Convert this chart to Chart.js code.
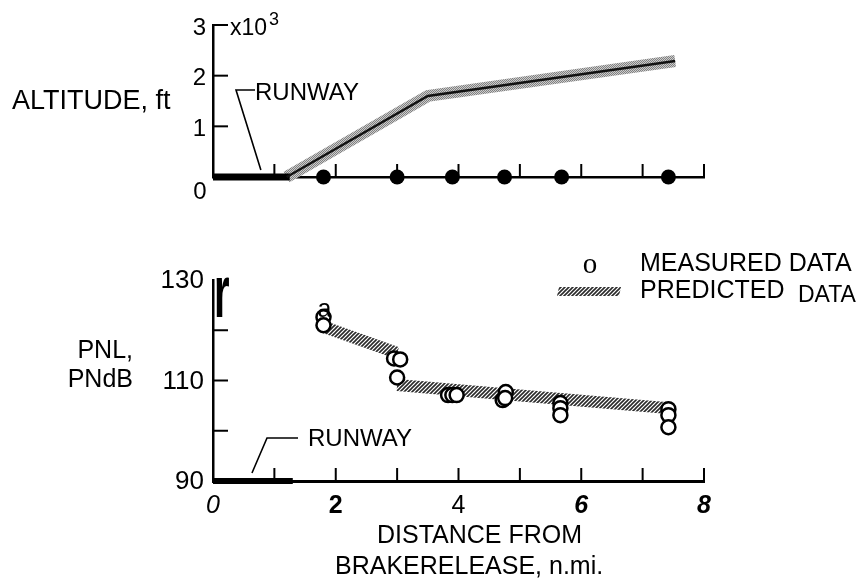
<!DOCTYPE html>
<html>
<head>
<meta charset="utf-8">
<title>Altitude and PNL vs distance from brake release</title>
<script src="https://cdn.jsdelivr.net/npm/chart.js@4.4.1/dist/chart.umd.min.js"></script>
<style>
  html, body { margin: 0; padding: 0; background: #fff; }
  #wrap { position: relative; width: 859px; height: 587px; }
  canvas { position: absolute; left: 0; top: 0; }
</style>
</head>
<body>
<div id="wrap">
  <canvas id="altChart" width="859" height="587"></canvas>
  <canvas id="pnlChart" width="859" height="587"></canvas>
</div>
<script>
// Data ==================================================

// microphone stations along the ground track, n.mi.
const stationDist = [1.8, 3.0, 3.9, 4.75, 5.68, 7.42];

// flight path (altitude, ft)
const pathDist = [1.2, 3.5, 7.53];
const pathAlt = [0, 1600, 2290];

// runway, both panels
const runwayDistAlt = [0, 1.25];
const runwayDistPnl = [0, 1.3];

// measured PNL, several runs per station
const measuredDist = [1.8, 1.8, 2.95, 3.05, 3.0, 3.83, 3.9, 3.97, 4.77, 4.72, 4.76, 5.66, 5.66, 5.66, 7.42, 7.42, 7.42];
const measuredPnl = [122.6, 121.0, 114.4, 114.2, 110.6, 107.1, 107.1, 107.1, 107.7, 106.1, 106.5, 105.5, 104.5, 103.1, 104.3, 103.1, 100.7];

// predicted PNL band, two legs (drop at cutback)
const predDist1 = [1.82, 3.0];
const predPnl1 = [120.6, 115.5];
const predDist2 = [3.0, 7.42];
const predPnl2 = [109.1, 104.5];

// ticks
const distTicks = [0, 1, 2, 3, 4, 5, 6, 7, 8];
const distLabels = [0, 2, 4, 6, 8];
const altTicks = [0, 1000, 2000, 3000];
const pnlTicks = [90, 100, 110, 120, 130];
const pnlLabels = [90, 110, 130];

// Helpers ===============================================

const SANS = '"Liberation Sans", Arial, sans-serif';

function xy(xs, ys) {
  return xs.map((x, i) => ({ x: x, y: ys[i] }));
}

function hatchPattern() {
  const c = document.createElement('canvas');
  c.width = 4; c.height = 4;
  const g = c.getContext('2d');
  g.strokeStyle = '#2a2a2a';
  g.lineWidth = 1.6;
  g.beginPath();
  g.moveTo(-1, 5); g.lineTo(5, -1);
  g.moveTo(-1, 1); g.lineTo(1, -1);
  g.moveTo(3, 5); g.lineTo(5, 3);
  g.stroke();
  return g.createPattern(c, 'repeat');
}

function screenPattern() {
  const c = document.createElement('canvas');
  c.width = 2; c.height = 2;
  const g = c.getContext('2d');
  g.fillStyle = '#cccccc';
  g.fillRect(0, 0, 2, 2);
  g.fillStyle = '#808080';
  g.fillRect(0, 0, 1, 1);
  g.fillRect(1, 1, 1, 1);
  return g.createPattern(c, 'repeat');
}

function text(ctx, s, x, y, size, align, opts) {
  opts = opts || {};
  ctx.save();
  ctx.fillStyle = '#000';
  ctx.font = (opts.style || '') + ' ' + (opts.weight || '') + ' ' + size + 'px ' + (opts.family || SANS);
  ctx.textAlign = align || 'left';
  ctx.textBaseline = opts.baseline || 'middle';
  ctx.fillText(s, x, y);
  ctx.restore();
}

function line(ctx, pts, w) {
  ctx.save();
  ctx.strokeStyle = '#000';
  ctx.lineWidth = w || 1.6;
  ctx.beginPath();
  pts.forEach((p, i) => i ? ctx.lineTo(p[0], p[1]) : ctx.moveTo(p[0], p[1]));
  ctx.stroke();
  ctx.restore();
}

// ticks drawn inward from the axes
function innerTicks(chart, xVals, yVals, len) {
  const { ctx, scales: { x, y } } = chart;
  const bottom = y.getPixelForValue(y.min);
  const left = x.getPixelForValue(x.min);
  xVals.forEach(v => {
    const px = x.getPixelForValue(v);
    line(ctx, [[px, bottom], [px, bottom - len]], 2);
  });
  yVals.forEach(v => {
    const py = y.getPixelForValue(v);
    line(ctx, [[left, py], [left + len + 2, py]], 2);
  });
}

const hatch = hatchPattern();
const screen = screenPattern();

function fixedTicks(vals) {
  return function (scale) { scale.ticks = vals.map(v => ({ value: v })); };
}

// Top panel: altitude ===================================

const altDecor = {
  id: 'altDecor',
  afterDraw(chart) {
    const { ctx, scales: { x, y } } = chart;
    innerTicks(chart, distTicks.slice(1), altTicks.slice(1), 13);

    // runway call-out
    line(ctx, [[x.getPixelForValue(0.685), y.getPixelForValue(1717)],
               [x.getPixelForValue(0.375), y.getPixelForValue(1717)],
               [x.getPixelForValue(0.78), y.getPixelForValue(140)]], 1.6);
    text(ctx, 'RUNWAY', x.getPixelForValue(0.685), y.getPixelForValue(1660), 24, 'left');

    text(ctx, 'ALTITUDE, ft', 12, 102, 27, 'left');
    text(ctx, 'x10', 230, 35, 23, 'left', { baseline: 'alphabetic' });
    text(ctx, '3', 269, 25, 18, 'left', { baseline: 'alphabetic' });
    text(ctx, '0', 200, 192, 24, 'center');
  }
};

new Chart(document.getElementById('altChart'), {
  type: 'line',
  data: {
    datasets: [
      {
        label: 'Stations',
        data: stationDist.map(d => ({ x: d, y: 0 })),
        showLine: false,
        pointRadius: 7.5,
        pointBackgroundColor: '#000',
        pointBorderWidth: 0,
        clip: false,
        order: 0
      },
      {
        label: 'Flight path',
        data: xy(pathDist, pathAlt),
        borderColor: '#111',
        borderWidth: 2.5,
        pointRadius: 0,
        clip: false,
        order: 1
      },
      {
        label: 'Runway',
        data: runwayDistAlt.map(d => ({ x: d, y: 0 })),
        borderColor: '#000',
        borderWidth: 7,
        borderCapStyle: 'butt',
        pointRadius: 0,
        clip: false,
        order: 2
      },
      {
        label: 'Path band',
        data: xy(pathDist, pathAlt),
        borderColor: screen,
        borderWidth: 12,
        borderCapStyle: 'butt',
        pointRadius: 0,
        clip: false,
        order: 3
      }
    ]
  },
  options: {
    responsive: false,
    animation: false,
    devicePixelRatio: 1,
    events: [],
    layout: { padding: { left: 153, right: 859 - 704, top: 25, bottom: 587 - 177 } },
    plugins: { legend: { display: false }, tooltip: { enabled: false } },
    scales: {
      x: {
        type: 'linear', min: 0, max: 8,
        afterBuildTicks: fixedTicks(distTicks),
        afterFit: s => { s.height = 0; },
        grid: { display: false, drawTicks: false },
        border: { color: '#000', width: 2.5 },
        ticks: { display: false }
      },
      y: {
        type: 'linear', min: 0, max: 3000,
        afterBuildTicks: fixedTicks(altTicks),
        afterFit: s => { s.width = 60; },
        grid: { display: false, drawTicks: false },
        border: { color: '#000', width: 2.5 },
        ticks: {
          color: '#000',
          padding: 7,
          labelOffset: 3,
          font: { family: SANS, size: 24 },
          callback: v => v === 0 ? '' : String(v / 1000)
        }
      }
    }
  },
  plugins: [altDecor]
});

// Bottom panel: PNL =====================================

const pnlDecor = {
  id: 'pnlDecor',
  afterDraw(chart) {
    const { ctx, scales: { x, y } } = chart;
    innerTicks(chart, distTicks.slice(1), [100, 110, 120], 13);

    // top of the axis came out as an "r" in the scan
    ctx.save();
    ctx.translate(x.getPixelForValue(0) + 1, y.getPixelForValue(122.7));
    ctx.scale(1, 1.85);
    ctx.fillStyle = '#000';
    ctx.font = 'bold 40px ' + SANS;
    ctx.textBaseline = 'alphabetic';
    ctx.fillText('r', 0, 0);
    ctx.restore();

    text(ctx, 'a', x.getPixelForValue(1.815), y.getPixelForValue(124.0), 25, 'center');

    // runway call-out
    line(ctx, [[x.getPixelForValue(1.385), y.getPixelForValue(98.56)],
               [x.getPixelForValue(0.88), y.getPixelForValue(98.56)],
               [x.getPixelForValue(0.635), y.getPixelForValue(91.6)]], 1.6);
    text(ctx, 'RUNWAY', x.getPixelForValue(1.548), y.getPixelForValue(98.2), 24, 'left');

    // legend
    text(ctx, 'o', 590, 265, 29, 'center', { family: '"Liberation Serif", serif' });
    text(ctx, 'MEASURED DATA', 640, 264, 25, 'left');
    ctx.save();
    ctx.fillStyle = hatch;
    ctx.beginPath();
    ctx.moveTo(559, 287); ctx.lineTo(621, 287); ctx.lineTo(619, 296); ctx.lineTo(557, 296);
    ctx.closePath();
    ctx.fill();
    ctx.restore();
    text(ctx, 'PREDICTED', 640, 291, 25, 'left');
    text(ctx, 'DATA', 798, 296, 23, 'left');

    // y title
    text(ctx, 'PNL,', 133, 351, 25, 'right');
    text(ctx, 'PNdB', 133, 380, 25, 'right');

    // x title
    text(ctx, 'DISTANCE FROM', 377, 536, 25, 'left');
    text(ctx, 'BRAKERELEASE, n.mi.', 335, 567, 25, 'left');
  }
};

new Chart(document.getElementById('pnlChart'), {
  type: 'line',
  data: {
    datasets: [
      {
        label: 'MEASURED DATA',
        data: xy(measuredDist, measuredPnl),
        showLine: false,
        pointRadius: 7,
        pointBorderWidth: 2.5,
        pointBorderColor: '#000',
        pointBackgroundColor: '#fff',
        clip: false,
        order: 0
      },
      {
        label: 'Runway',
        data: runwayDistPnl.map(d => ({ x: d, y: 90 })),
        borderColor: '#000',
        borderWidth: 6,
        borderCapStyle: 'butt',
        pointRadius: 0,
        clip: false,
        order: 1
      },
      {
        label: 'PREDICTED DATA',
        data: xy(predDist1, predPnl1),
        borderColor: hatch,
        borderWidth: 12,
        borderCapStyle: 'butt',
        pointRadius: 0,
        clip: false,
        order: 2
      },
      {
        label: 'PREDICTED DATA (cutback)',
        data: xy(predDist2, predPnl2),
        borderColor: hatch,
        borderWidth: 12,
        borderCapStyle: 'butt',
        pointRadius: 0,
        clip: false,
        order: 3
      }
    ]
  },
  options: {
    responsive: false,
    animation: false,
    devicePixelRatio: 1,
    events: [],
    layout: { padding: { left: 153, right: 859 - 704, top: 280, bottom: 587 - 481 - 40 } },
    plugins: { legend: { display: false }, tooltip: { enabled: false } },
    scales: {
      x: {
        type: 'linear', min: 0, max: 8,
        afterBuildTicks: fixedTicks(distTicks),
        afterFit: s => { s.height = 40; },
        grid: { display: false, drawTicks: false },
        border: { color: '#000', width: 3 },
        ticks: {
          color: '#000',
          padding: 10,
          autoSkip: false,
          maxRotation: 0,
          font: ctx => {
            const v = ctx.tick ? ctx.tick.value : null;
            const f = { family: SANS, size: 25 };
            if (v === 0) f.style = 'italic';
            if (v === 2) f.weight = 'bold';
            if (v === 6 || v === 8) { f.weight = 'bold'; f.style = 'italic'; }
            return f;
          },
          callback: v => distLabels.includes(v) ? String(v) : ''
        }
      },
      y: {
        type: 'linear', min: 90, max: 130,
        afterBuildTicks: fixedTicks(pnlTicks),
        afterFit: s => { s.width = 60; },
        grid: { display: false, drawTicks: false },
        border: { color: '#000', width: 2.5 },
        ticks: {
          color: '#000',
          padding: 9,
          labelOffset: 1,
          autoSkip: false,
          font: { family: SANS, size: 26 },
          callback: v => pnlLabels.includes(v) ? String(v) : ''
        }
      }
    }
  },
  plugins: [pnlDecor]
});
</script>
</body>
</html>
